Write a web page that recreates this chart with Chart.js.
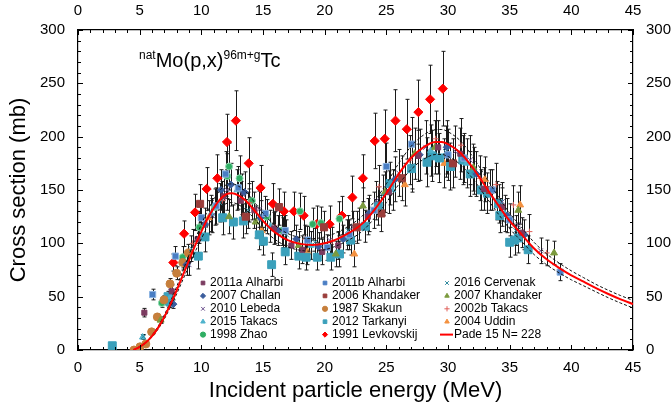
<!DOCTYPE html>
<html>
<head>
<meta charset="utf-8">
<script src="https://cdn.jsdelivr.net/npm/chart.js@4.4.0/dist/chart.umd.min.js"></script>
<style>
  html, body { margin: 0; padding: 0; background: #fff; }
</style>
</head>
<body>
<canvas id="xsChart" width="671" height="409"></canvas>
<script>
// --- DATA: [energy (MeV), cross section (mb), error (mb)] ---
const alharbi2011a = [[5.38,35,4],[7.6,55,6],[9.7,104,13],[11.8,144,19],[13.2,140,18],[14.3,131,17],[15.9,114,15],[17.3,98,13],[18.2,94,13],[19.8,92,12],[21.1,98,13],[23.5,125,17],[25.2,148,20],[27.6,182,24],[29.2,190,25],[31.0,184,24],[32.9,151,20],[34.4,134,18],[36.0,110,14]];
const alharbi2011b = [[6.05,52,5],[7.9,88,9],[10.0,124,15],[11.2,135,17],[11.97,165,21],[13.0,152,20],[15.2,128,16],[16.8,112,14],[18.6,103,13],[20.2,96,12],[22.0,108,14],[24.0,131,17],[25.0,172,22],[27.05,193,25],[30.0,183,24],[31.3,180,23],[33.6,150,19],[35.0,122,15],[39.1,73,8]];
const cervenak2016 = [[5.3,12.5,2],[9.2,95,12],[11.5,138,18],[13.8,131,17],[16.9,108,14],[19.2,101,13],[21.9,112,14],[24.7,145,19],[27.1,173,22],[29.8,186,24],[32.1,168,22],[34.0,140,18],[35.5,112,14]];
const challan2007 = [[7.73,43,4],[8.8,80,10],[10.3,118,15],[11.6,150,19],[12.4,155,20],[13.5,148,19],[14.8,124,16],[16.2,112,14],[17.7,104,13],[19.5,97,13],[21.5,104,13],[23.6,128,17],[25.7,160,21],[27.7,183,24],[29.9,190,25],[32.3,165,21],[34.8,126,16],[36.2,108,14]];
const khandaker2006 = [[9.9,137,18],[13.6,125,16],[16.3,134,17],[19.95,115,15],[22.6,115,15],[24.6,128,17],[26.25,161,21],[30.4,175,23],[33.4,150,19]];
const khandaker2007 = [[6.7,28,3],[12.25,125,16],[14.4,120,15],[17.9,98,13],[20.9,90,12],[23.1,135,17],[24.9,148,19],[27.3,184,24],[28.95,190,25],[32.06,171,22],[35.7,131,17],[38.6,91,11]];
const lebeda2010 = [[9.0,80,10],[10.9,126,16],[12.1,150,19],[13.3,146,19],[14.7,132,17],[16.6,110,14],[18.7,103,13],[20.4,103,13],[22.3,115,15],[24.2,140,18],[26.0,166,22],[28.2,190,25],[30.6,186,24],[31.8,178,23],[34.4,139,18],[35.7,117,15],[37.5,93,12]];
const skakun1987 = [[4.54,0,0],[5.03,3,1],[5.5,5.6,1],[5.97,17,2],[6.43,31,3],[6.97,47,4],[7.46,62,5],[8.0,72,6],[8.49,82,7],[8.95,91,8]];
const takacs2002b = [[9.3,100,13],[11.7,140,18],[13.9,138,18],[16.0,115,15],[18.4,104,13],[20.6,102,13],[22.8,118,15],[24.4,153,20],[26.9,178,23],[29.0,198,26],[31.06,192,25],[32.6,161,21],[33.9,155,20],[35.3,136,18],[36.6,111,16],[38.0,91,12]];
const takacs2015 = [[5.24,12,2],[7.5,50,5],[10.8,128,17],[12.9,150,19],[15.6,116,15],[18.9,98,13],[21.8,108,14],[25.5,150,19],[28.6,187,24],[31.5,175,23],[34.6,128,17]];
const tarkanyi2012 = [[2.78,4,0],[7.3,50,5],[7.45,45,5],[9.76,88,12],[10.3,106,14],[11.73,124,16],[12.6,120,16],[13.4,121,16],[14.7,108,14],[15.03,102,13],[15.7,80,11],[16.8,92,12],[17.9,88,12],[18.5,87,12],[19.4,87,12],[20.5,87,12],[21.2,90,12],[22.1,103,14],[23.3,116,15],[24.35,135,18],[25.3,156,20],[27.05,170,22],[28.3,176,23],[28.7,182,24],[29.3,180,23],[30.2,172,22],[31.2,178,23],[31.8,165,21],[32.7,150,19],[33.2,147,19],[34.1,137,18],[34.2,126,16],[35.0,101,14],[35.4,103,14],[35.7,105,14],[36.5,94,13]];
const uddin2004 = [[10.6,124,16],[14.9,112,14],[18.6,92,12],[22.4,90,12],[26.5,155,20],[29.7,175,23],[33.0,160,21],[35.85,136,18]];
const zhao1998 = [[6.8,44,4],[8.49,87,10],[9.84,115,15],[11.1,134,17],[12.1,163,21],[12.25,172,22],[13.1,161,21],[14.1,140,18],[15.3,125,16],[16.5,112,14],[18.0,130,17],[19.03,118,15],[19.7,119,15],[21.2,123,16]];
const levkovskij1991 = [[7.73,82,8],[8.6,109,12],[9.49,129,17],[10.43,151,20],[11.3,161,22],[12.08,195,26],[12.8,215,28],[13.84,175,24],[14.8,152,21],[15.8,137,19],[16.7,130,18],[17.5,130,18],[18.3,126,18],[19.36,118,17],[20.4,118,17],[21.4,126,18],[22.25,143,20],[23.1,161,22],[24.06,196,26],[24.87,198,27],[25.74,215,29],[26.66,207,28],[27.6,223,30],[28.55,235,32],[29.58,245,35]];

// Pade fit and its uncertainty band
const padeE  = [4.5,5,5.5,6,6.5,7,7.5,8,8.5,9,9.5,10,10.5,11,11.5,12,12.5,13,13.5,14,14.5,15,15.5,16,17,18,19,20,21,22,23,24,25,26,27,28,29,29.5,30,31,32,33,34,35,36,37,38,39,40,41,42,43,44,45];
const padeXS = [0,3,7,13,21,31,43,56,70,84,98,111,123,133,141,146,147,145,141,135,128,121,115,110,103,99.5,98.5,100,104,110,118,131,147,165,180,190,195,195,193,185,171,154,137,121,108,95,85,77,70,64,58,52.5,47.5,43];
const padeHi = [0,3.2,7.4,13.8,22.3,32.9,45.6,59.4,74.2,89,103.9,117.7,130.4,141,149.5,154.8,155.8,153.7,149.5,143.1,135.7,128.3,121.9,116.6,109.2,105.5,104.4,106,110.2,116.6,125.1,138.9,155.8,174.9,190.8,201.4,206.7,206.7,204.6,196.1,181.3,163.2,145.2,128.3,114.5,100.7,90.1,81.6,74.2,67.8,61.5,56,51,46.5];
const padeLo = [0,2.8,6.6,12.2,19.7,29.1,40.4,52.6,65.8,79,92.1,104.3,115.6,125,132.5,137.2,138.2,136.3,132.5,126.9,120.3,113.7,108.1,103.4,96.8,93.5,92.6,94,97.8,103.4,110.9,123.1,138.2,155.1,169.2,178.6,183.3,183.3,181.4,173.9,160.7,144.8,128.8,113.7,101.5,89.3,79.9,72.4,65.8,60.2,54.5,49,44,39.5];

const xTicks = { min: 0, max: 45, step: 5, minor: 1 };
const yTicks = { min: 0, max: 300, step: 50, minor: 10 };

const FONT = "'Liberation Sans', Arial, sans-serif";
Chart.defaults.font.family = FONT;
Chart.defaults.color = '#000';

const pts = arr => arr.map(([x, y, err]) => ({ x, y, err }));
const curve = ys => padeE.map((x, i) => ({ x, y: ys[i] }));

function series(label, data, style, color, radius, border) {
  return {
    label, data: pts(data), errors: true, order: 2,
    pointStyle: style, pointRadius: radius, pointHoverRadius: radius,
    backgroundColor: color, borderColor: border || color, borderWidth: 1,
    xAxisID: 'x', yAxisID: 'y'
  };
}

const datasets = [
  series('2011a Alharbi', alharbi2011a, 'rect', '#7b3b60', 3.6),
  series('2011b Alharbi', alharbi2011b, 'rect', '#4a7ec4', 4.4, '#8db4e2'),
  series('2016 Cervenak', cervenak2016, 'crossRot', '#2f8a9e', 3.5),
  series('2007 Challan', challan2007, 'rectRot', '#3a5c9c', 3.6),
  series('2006 Khandaker', khandaker2006, 'rect', '#9a3d3a', 5),
  series('2007 Khandaker', khandaker2007, 'triangle', '#7b9a3e', 4),
  series('2010 Lebeda', lebeda2010, 'crossRot', '#6a4f8c', 3.5),
  series('1987 Skakun', skakun1987, 'circle', '#c67f3c', 4),
  series('2002b Takacs', takacs2002b, 'cross', '#e0605a', 3),
  series('2015 Takacs', takacs2015, 'triangle', '#4fb3cc', 3.6),
  series('2012 Tarkanyi', tarkanyi2012, 'rect', '#3aa0bb', 5.6),
  series('2004 Uddin', uddin2004, 'triangle', '#f39140', 4),
  series('1998 Zhao', zhao1998, 'circle', '#2fae63', 3.5, '#8fd8b0'),
  series('1991 Levkovskij', levkovskij1991, 'rectRot', '#ff0000', 4.6),
  {
    type: 'line', label: 'Pade 15 N= 228', data: curve(padeXS), order: 0,
    borderColor: '#ff0000', borderWidth: 2, pointRadius: 0,
    cubicInterpolationMode: 'monotone', xAxisID: 'x', yAxisID: 'y'
  },
  {
    type: 'line', label: '', hideInLegend: true, data: curve(padeHi), order: 1,
    borderColor: '#111', borderWidth: 1, borderDash: [3, 2], pointRadius: 0,
    cubicInterpolationMode: 'monotone', xAxisID: 'x', yAxisID: 'y'
  },
  {
    type: 'line', label: '', hideInLegend: true, data: curve(padeLo), order: 1,
    borderColor: '#111', borderWidth: 1, borderDash: [3, 2], pointRadius: 0,
    cubicInterpolationMode: 'monotone', xAxisID: 'x', yAxisID: 'y'
  }
];

// vertical error bars with small caps, behind the markers
const errorBars = {
  id: 'errorBars',
  beforeDatasetsDraw(chart) {
    const { ctx, chartArea: a, scales: { x, y } } = chart;
    ctx.save();
    ctx.beginPath();
    ctx.rect(a.left, a.top, a.right - a.left, a.bottom - a.top);
    ctx.clip();
    ctx.strokeStyle = '#1a1a1a';
    ctx.lineWidth = 1;
    chart.data.datasets.forEach(ds => {
      if (!ds.errors) return;
      ds.data.forEach(p => {
        if (!p.err) return;
        const px = Math.round(x.getPixelForValue(p.x)) + 0.5;
        const top = y.getPixelForValue(p.y + p.err);
        const bot = y.getPixelForValue(p.y - p.err);
        ctx.beginPath();
        ctx.moveTo(px, top); ctx.lineTo(px, bot);
        ctx.moveTo(px - 2, top); ctx.lineTo(px + 2, top);
        ctx.moveTo(px - 2, bot); ctx.lineTo(px + 2, bot);
        ctx.stroke();
      });
    });
    ctx.restore();
  }
};

// inward major/minor tick marks on all four sides
const innerTicks = {
  id: 'innerTicks',
  afterDatasetsDraw(chart) {
    const { ctx, chartArea: a, scales: { x, y } } = chart;
    ctx.save();
    ctx.strokeStyle = '#000';
    ctx.lineWidth = 1;
    ctx.beginPath();
    for (let v = xTicks.min; v <= xTicks.max; v += xTicks.minor) {
      const len = v % xTicks.step === 0 ? 5 : 3;
      const px = Math.round(x.getPixelForValue(v)) + 0.5;
      ctx.moveTo(px, a.bottom); ctx.lineTo(px, a.bottom - len);
      ctx.moveTo(px, a.top); ctx.lineTo(px, a.top + len);
    }
    for (let v = yTicks.min; v <= yTicks.max; v += yTicks.minor) {
      const len = v % yTicks.step === 0 ? 5 : 3;
      const py = Math.round(y.getPixelForValue(v)) + 0.5;
      ctx.moveTo(a.left, py); ctx.lineTo(a.left + len, py);
      ctx.moveTo(a.right, py); ctx.lineTo(a.right - len, py);
    }
    ctx.stroke();
    ctx.restore();
  }
};

// reaction label with superscripts
const reactionLabel = {
  id: 'reactionLabel',
  afterDraw(chart) {
    const { ctx, chartArea: a } = chart;
    const parts = [['nat', true], ['Mo(p,x)', false], ['96m+g', true], ['Tc', false]];
    let x = a.left + 61;
    const base = a.top + 37;
    ctx.save();
    ctx.fillStyle = '#000';
    ctx.textBaseline = 'alphabetic';
    parts.forEach(([t, sup]) => {
      ctx.font = (sup ? '12px ' : '20px ') + FONT;
      ctx.fillText(t, x, sup ? base - 8 : base);
      x += ctx.measureText(t).width;
    });
    ctx.restore();
  }
};

// three-column legend inside the plot area
const innerLegend = {
  id: 'innerLegend',
  afterDraw(chart) {
    const { ctx, chartArea: a } = chart;
    const items = chart.data.datasets.filter(d => !d.hideInLegend);
    const colX = [125, 247, 369];
    const rowH = 12.9;
    ctx.save();
    ctx.font = '12px ' + FONT;
    ctx.textBaseline = 'middle';
    items.forEach((ds, i) => {
      const cx = a.left + colX[i % 3];
      const cy = a.top + 253 + Math.floor(i / 3) * rowH;
      if (ds.type === 'line') {
        ctx.strokeStyle = ds.borderColor;
        ctx.lineWidth = 2;
        ctx.beginPath();
        ctx.moveTo(cx - 7, cy); ctx.lineTo(cx + 6, cy);
        ctx.stroke();
      } else {
        ctx.fillStyle = ds.backgroundColor;
        ctx.strokeStyle = ds.backgroundColor;
        ctx.lineWidth = 1;
        Chart.helpers.drawPoint(ctx, { pointStyle: ds.pointStyle, radius: 2.6, rotation: 0, borderWidth: 1 }, cx, cy);
      }
      ctx.fillStyle = '#000';
      ctx.fillText(ds.label, cx + 7, cy);
    });
    ctx.restore();
  }
};

const tickFont = { size: 15 };
const axisBorder = { display: true, color: '#000', width: 1.2 };
const noGrid = { display: false, drawTicks: false };

new Chart(document.getElementById('xsChart'), {
  type: 'scatter',
  data: { datasets },
  options: {
    responsive: false,
    animation: false,
    events: [],
    layout: { padding: 0 },
    plugins: { legend: { display: false }, tooltip: { enabled: false } },
    scales: {
      x: {
        type: 'linear', position: 'bottom', min: xTicks.min, max: xTicks.max,
        ticks: { stepSize: xTicks.step, font: tickFont, padding: 9, maxRotation: 0 },
        grid: noGrid, border: axisBorder,
        title: { display: true, text: 'Incident particle energy (MeV)', font: { size: 22 }, padding: { top: 0, bottom: 5 } },
        afterFit: s => { s.height = 59; }
      },
      x2: {
        type: 'linear', axis: 'x', position: 'top', min: xTicks.min, max: xTicks.max,
        ticks: { stepSize: xTicks.step, font: tickFont, padding: 10.5, maxRotation: 0 },
        grid: noGrid, border: axisBorder,
        afterFit: s => { s.height = 30; }
      },
      y: {
        type: 'linear', position: 'left', min: yTicks.min, max: yTicks.max,
        ticks: { stepSize: yTicks.step, font: tickFont, padding: 13 },
        grid: noGrid, border: axisBorder,
        title: { display: true, text: 'Cross section (mb)', font: { size: 22 }, padding: { top: 6, bottom: 0 } },
        afterFit: s => { s.width = 78; }
      },
      y2: {
        type: 'linear', axis: 'y', position: 'right', min: yTicks.min, max: yTicks.max,
        ticks: { stepSize: yTicks.step, font: tickFont, padding: 13 },
        grid: noGrid, border: axisBorder,
        afterFit: s => { s.width = 38; }
      }
    }
  },
  plugins: [errorBars, innerTicks, reactionLabel, innerLegend]
});
</script>
</body>
</html>
